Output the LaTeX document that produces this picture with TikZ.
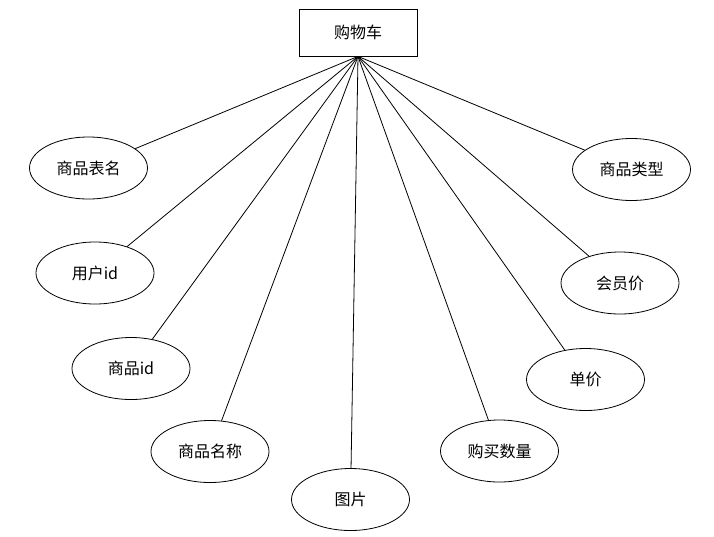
\documentclass[tikz,border=0pt]{standalone}
\usepackage{fontspec}
\setmainfont{Noto Sans CJK SC}
\usetikzlibrary{shapes.geometric}

\begin{document}
\begin{tikzpicture}[
    x=1pt, y=-1pt,
    line width=0.8pt,
    entity/.style={rectangle, draw, minimum width=118pt, minimum height=47pt,
                   inner sep=0pt, font=\fontsize{16}{18}\selectfont},
    attr/.style={ellipse, draw, minimum width=118pt, minimum height=62pt,
                 inner sep=0pt, font=\fontsize{16}{18}\selectfont},
    link/.style={draw, line width=0.8pt}
]
\useasboundingbox (0,0) rectangle (714,536);

\node[entity] (cart) at (358,32.5) {购物车};

% attributes, left side
\node[attr] (tname) at (88.5,168) {商品表名};
\node[attr] (uid) at (95,273) {用户id};
\node[attr] (gid) at (131,368.5) {商品id};
\node[attr] (gname) at (210,451.5) {商品名称};
\node[attr] (pic) at (350.5,499.5) {图片};

% attributes, right side
\node[attr] (num) at (499.5,451) {购买数量};
\node[attr] (price) at (585.5,379.5) {单价};
\node[attr] (vip) at (620,283) {会员价};
\node[attr] (gtype) at (631.5,169.5) {商品类型};

\draw[link] (cart.south) -- (tname);
\draw[link] (cart.south) -- (uid);
\draw[link] (cart.south) -- (gid);
\draw[link] (cart.south) -- (gname);
\draw[link] (cart.south) -- (pic);
\draw[link] (cart.south) -- (num);
\draw[link] (cart.south) -- (price);
\draw[link] (cart.south) -- (vip);
\draw[link] (cart.south) -- (gtype);

\end{tikzpicture}
\end{document}
